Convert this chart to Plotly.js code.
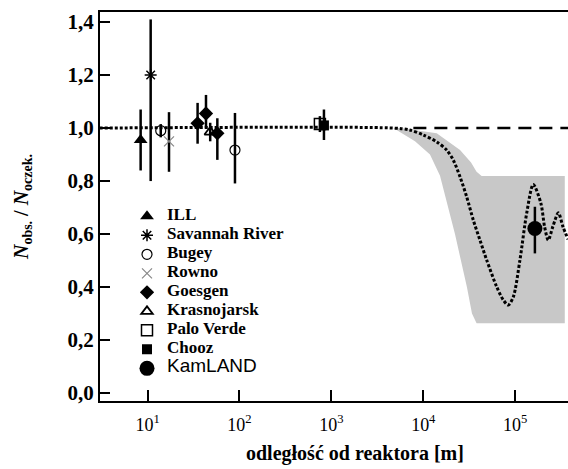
<!DOCTYPE html>
<html><head><meta charset="utf-8">
<script src="https://cdn.plot.ly/plotly-3.0.1.min.js"></script>
<style>html,body{margin:0;padding:0;background:#fff;overflow:hidden}#chart{width:568px;height:469px}</style>
</head><body><div id="chart"></div>
<script>
// ---- axis ticks ----
const xTickVals = [10, 100, 1000, 10000, 100000];
const xTickText = ['10<sup>1</sup>', '10<sup>2</sup>', '10<sup>3</sup>', '10<sup>4</sup>', '10<sup>5</sup>'];
const yTickVals = [0, 0.2, 0.4, 0.6, 0.8, 1.0, 1.2, 1.4];

// ---- experiments (distance [m], N_obs/N_exp, errors) ----
const illX = [8.4], illY = [0.955], illUp = [0.115], illDown = [0.115];
const savX = [10.8], savY = [1.20], savUp = [0.21], savDown = [0.40];
const bugeyX = [13.9, 89.3], bugeyY = [0.99, 0.917], bugeyUp = [0.025, 0.14], bugeyDown = [0.025, 0.126];
const rownoX = [17.1], rownoY = [0.95], rownoUp = [0.11], rownoDown = [0.115];
const goesX = [35, 43.2, 57.4], goesY = [1.018, 1.055, 0.98], goesUp = [0.077, 0.07, 0.057], goesDown = [0.077, 0.056, 0.10];
const krasX = [48], krasY = [0.985], krasUp = [0.035], krasDown = [0.035];
const paloX = [750], paloY = [1.015], paloUp = [0.03], paloDown = [0.03];
const choozX = [830], choozY = [1.01], choozUp = [0.06], choozDown = [0.055];
const kamX = [164000], kamY = [0.621], kamUp = [0.082], kamDown = [0.094];

// ---- oscillation prediction (dotted) ----
const oscX = [3.0, 4721, 7080, 10000, 14000, 17990, 21230, 25120, 29650, 35000, 41400, 48980, 62950, 74300, 84140,
              95500, 112700, 133400, 157400, 190500, 208900, 229100, 257000, 295100, 331100, 376000];
const oscY = [1.0, 1.0, 0.993, 0.974, 0.948, 0.917, 0.879, 0.816, 0.741, 0.653, 0.577, 0.502, 0.401, 0.351, 0.332,
              0.363, 0.502, 0.678, 0.787, 0.716, 0.628, 0.577, 0.628, 0.680, 0.628, 0.58];
// ---- no-oscillation reference (dashed) ----
const noOscX = [7800, 400000];
const noOscY = [1.0, 1.0];
// ---- allowed region (gray band): lower edge, then upper edge back ----
const bandLowX = [4721, 8128, 11830, 15210, 22130, 29850, 33880, 38020, 346700];
const bandLowY = [1.0, 0.95, 0.90, 0.82, 0.60, 0.40, 0.30, 0.263, 0.263];
const bandHighX = [346700, 43150, 38020, 33110, 25120, 14000, 5623];
const bandHighY = [0.819, 0.819, 0.835, 0.87, 0.917, 0.98, 1.0];

const serif = 'Liberation Serif, Times New Roman, serif';
const lg = (t) => '<span style="font-size:17px">' + t + '</span>';

function expTrace(name, x, y, up, down, marker) {
  return {
    type: 'scatter', mode: 'markers', name: name, x: x, y: y,
    marker: marker,
    error_y: {type: 'data', symmetric: false, array: up, arrayminus: down, color: '#000', thickness: 2.5, width: 0},
    cliponaxis: false
  };
}

const traces = [
  {type: 'scatter', mode: 'lines', x: bandLowX.concat(bandHighX), y: bandLowY.concat(bandHighY),
   fill: 'toself', fillcolor: '#c8c8c8', line: {width: 0}, showlegend: false, hoverinfo: 'skip'},
  {type: 'scatter', mode: 'lines', x: noOscX, y: noOscY, line: {color: '#000', width: 2.5, dash: '13px,8px'}, showlegend: false},
  {type: 'scatter', mode: 'lines', x: oscX, y: oscY, line: {color: '#000', width: 3, dash: '3px,2px', shape: 'spline', smoothing: 0.8}, showlegend: false},
  expTrace(lg('ILL'), illX, illY, illUp, illDown, {symbol: 'triangle-up', size: 12, color: '#000'}),
  expTrace(lg('Savannah River'), savX, savY, savUp, savDown, {symbol: 'asterisk-open', size: 10, color: '#000', line: {color: '#000', width: 1.5}}),
  expTrace(lg('Bugey'), bugeyX, bugeyY, bugeyUp, bugeyDown, {symbol: 'circle-open', size: 10, color: '#000', line: {color: '#000', width: 1.2}}),
  expTrace(lg('Rowno'), rownoX, rownoY, rownoUp, rownoDown, {symbol: 'x-thin-open', size: 10, color: '#888', line: {color: '#888', width: 1.2}}),
  expTrace(lg('Goesgen'), goesX, goesY, goesUp, goesDown, {symbol: 'diamond', size: 11, color: '#000'}),
  expTrace(lg('Krasnojarsk'), krasX, krasY, krasUp, krasDown, {symbol: 'triangle-up-open', size: 10, color: '#000', line: {color: '#000', width: 1.8}}),
  expTrace(lg('Palo Verde'), paloX, paloY, paloUp, paloDown, {symbol: 'square-open', size: 11, color: '#000', line: {color: '#000', width: 1.5}}),
  expTrace(lg('Chooz'), choozX, choozY, choozUp, choozDown, {symbol: 'square', size: 10, color: '#000'}),
  expTrace('<span style="font-size:19px;font-family:Liberation Sans,Arial,sans-serif;font-weight:normal">KamLAND</span>', kamX, kamY, kamUp, kamDown, {symbol: 'circle', size: 15, color: '#000'})
];

const layout = {
  width: 568, height: 469,
  margin: {l: 100, r: 0, t: 12, b: 68},
  paper_bgcolor: '#fff', plot_bgcolor: '#fff',
  separators: ', ',
  showlegend: true,
  font: {family: serif, color: '#000'},
  xaxis: {
    type: 'log', range: [0.482, 5.575],
    tickvals: xTickVals, ticktext: xTickText,
    ticks: 'inside', ticklen: 11, tickwidth: 2, tickcolor: '#000',
    showline: true, linewidth: 2, linecolor: '#000', mirror: true,
    showgrid: false, zeroline: false, ticklabelstandoff: 6,
    tickfont: {family: serif, size: 18, color: '#000'},
    automargin: false
  },
  yaxis: {
    range: [-0.030, 1.438],
    tickvals: yTickVals, tickformat: '.1f',
    ticks: 'inside', ticklen: 10, tickwidth: 2, tickcolor: '#000',
    showline: true, linewidth: 2, linecolor: '#000', mirror: false,
    showgrid: false, zeroline: false,
    tickfont: {family: serif, size: 21, color: '#000', weight: 'bold'},
    title: {text: '<i>N</i><sub>obs.</sub> / <i>N</i><sub>oczek.</sub>', font: {family: serif, size: 20, color: '#000', weight: 'bold'}, standoff: 34},
    automargin: false
  },
  legend: {
    x: 0.0577, y: 0.512, xanchor: 'left', yanchor: 'top',
    bgcolor: 'rgba(0,0,0,0)', borderwidth: 0, tracegroupgap: 0,
    font: {family: serif, size: 10, color: '#000', weight: 'bold'}
  },
  annotations: [{
    text: 'odległość od reaktora [m]', xref: 'paper', yref: 'paper',
    x: (355 - 100) / 468, y: (401 - 454) / 389, xanchor: 'center', yanchor: 'middle',
    showarrow: false, font: {family: serif, size: 20, color: '#000', weight: 'bold'}
  }]
};

Plotly.newPlot('chart', traces, layout, {displayModeBar: false, staticPlot: true});
</script>
</body></html>
